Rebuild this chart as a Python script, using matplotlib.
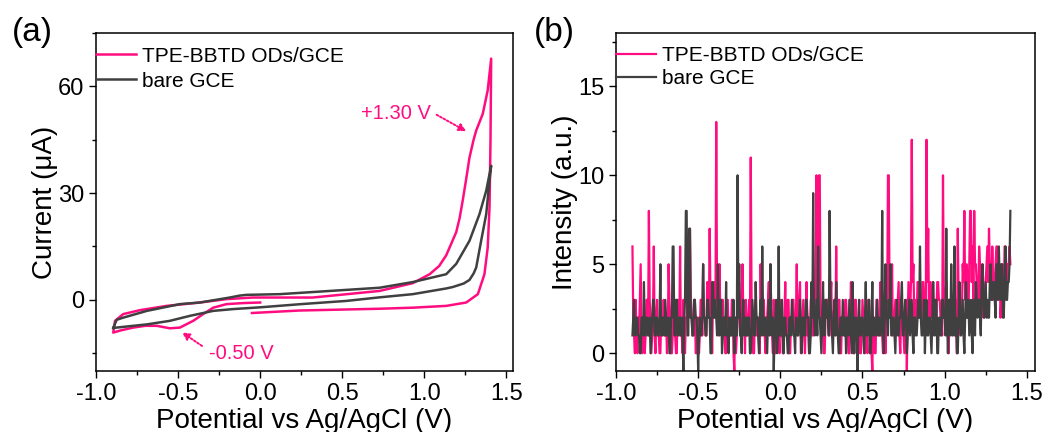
import numpy as np
import matplotlib
matplotlib.use('Agg')
import matplotlib.pyplot as plt
from matplotlib.ticker import MultipleLocator

plt.rcParams['font.family'] = ['Liberation Sans', 'DejaVu Sans']
plt.rcParams['axes.unicode_minus'] = False

PINK = '#FF0D80'
GRAY = '#404040'

# ---- (a) CV curves: potential (V), current (uA) ----
cv_pink_x = [0.00, -0.10, -0.205, -0.286, -0.347, -0.408, -0.489, -0.55, -0.63, -0.70, -0.773, -0.85, -0.895,
             -0.884, -0.834, -0.732, -0.57, -0.367, -0.205, -0.045, 0.32, 0.727, 0.93, 1.032, 1.09, 1.133,
             1.194, 1.215, 1.234, 1.255, 1.275, 1.30, 1.316, 1.356, 1.386, 1.407,
             1.403, 1.397, 1.386, 1.366, 1.326, 1.255, 1.133, 0.93, 0.727, 0.24, -0.05]
cv_pink_y = [-0.75, -0.9, -1.2, -2.2, -4.0, -5.9, -7.8, -8.0, -7.3, -7.3, -7.8, -8.6, -9.2,
             -5.9, -4.0, -2.9, -1.7, -0.75, 0.2, 0.65, 0.65, 2.5, 4.7, 7.2, 9.5, 12.5,
             19.0, 23.0, 28.0, 34.0, 40.0, 45.0, 47.6, 52.3, 58.9, 67.8,
             44.8, 26.0, 14.7, 7.2, 1.6, -0.75, -1.7, -2.2, -2.5, -3.0, -3.7]

cv_gray_x = [-0.895, -0.773, -0.69, -0.55, -0.428, -0.286, -0.165, 0.00, 0.25, 0.525, 0.727, 0.93, 1.133,
             1.173, 1.24, 1.275, 1.30, 1.316, 1.346, 1.377, 1.397, 1.407,
             1.377, 1.336, 1.275, 1.194, 1.133, 0.93, 0.727, 0.525, 0.12, -0.083, -0.124, -0.185,
             -0.367, -0.489, -0.69, -0.834, -0.874, -0.895]
cv_gray_y = [-7.9, -7.3, -6.9, -5.9, -4.5, -3.1, -2.6, -2.1, -1.2, -0.3, 0.7, 1.6, 3.2,
             3.6, 4.6, 5.6, 7.4, 9.1, 16.6, 24.1, 33.5, 37.7,
             30.7, 24.1, 16.6, 10.1, 7.2, 5.0, 3.4, 2.8, 1.6, 1.4, 1.2, 0.65,
             -0.75, -1.2, -3.1, -5.0, -5.6, -7.9]

# ---- (b) ECL intensity vs potential, one value every 5 mV ----
ecl_x = np.round(np.arange(-0.90, 1.4025, 0.005), 3)
ecl_pink = [6, 2, 1, 0, 3, 1, 0, 2, 1, 3, 5, 1, 0, 1, 2, 0, 1, 3, 3, 1,
            8, 3, 2, 0, 1, 2, 6, 1, 0, 2, 3, 1, 1, 0, 0, 2, 2, 1, 3, 1,
            1, 2, 0, 1, 5, 3, 2, 0, 0, 1, 3, 2, 1, 0, 0, 3, 2, 1, 6, 1,
            1, 0, 3, 1, 0, 2, 2, 4, 4, 2, 7, 3, 2, 1, 1, 3, 3, 0, 0, 2,
            2, 0, 1, 3, 3, 1, 5, 2, 2, 1, 1, 4, 4, 2, 7, 3, 2, 0, 3, 2,
            4, 2, 13, 3, 3, 1, 5, 2, 2, 3, 3, 1, 1, 0, 0, 3, 3, 1, 2, 1,
            1, 3, 3, 0, -1, 2, 0, 1, 2, 4, 4, 1, 1, 3, 5, 2, 2, 0, 3, 1,
            1, 2, 3, 1, 11, 3, 2, 0, 0, 2, 3, 1, 1, 2, 2, 0, 5, 2, 1, 3,
            3, 1, 0, 2, 2, 3, 4, 1, 5, 2, 1, 0, 3, 2, 0, 1, 2, 3, 1, 0,
            3, 1, 2, 0, 0, 2, 4, 1, 1, 3, 3, 0, 0, 2, 2, 3, 3, 1, 1, 2,
            5, 1, 2, 3, 4, 0, 1, 2, 3, 1, 0, 2, 4, 1, 2, 0, 1, 3, 3, 1,
            1, 2, 3, 4, 10, 3, 4, 10, 10, 2, 2, 1, 3, 0, 0, 2, 2, 3, 3, 1,
            1, 3, 4, 1, 2, 2, 3, 1, 6, 2, 1, 3, 3, 0, 0, 2, 2, 1, 1, 3,
            3, 2, 1, 0, 0, 2, 4, 1, 2, 0, 0, 3, 3, 1, 1, 2, 2, 0, 0, 1,
            3, 2, 1, 0, 2, 1, 0, 3, 3, 1, 1, 0, -1, 2, 2, 0, 0, 3, 3, 1,
            2, 1, 4, 2, 1, 0, 3, 2, 0, 4, 2, 10, 10, 3, 3, 2, 5, 1, 1, 2,
            3, 1, 2, 3, 4, 1, 0, 2, 3, 2, 1, 0, 2, 3, -1, 2, 4, 3, 2, 4,
            12, 4, 5, 2, 3, 2, 2, 4, 4, 3, 3, 2, 2, 4, 4, 3, 3, 2, 12, 4,
            7, 2, 3, 4, 2, 3, 4, 2, 3, 2, 2, 4, 4, 3, 3, 2, 2, 1, 10, 3,
            2, 3, 4, 1, 1, 0, 3, 2, 2, 1, 3, 2, 1, 3, 2, 0, 7, 3, 2, 1,
            3, 2, 5, 4, 8, 3, 4, 5, 3, 2, 5, 8, 8, 4, 6, 3, 8, 5, 5, 4,
            4, 3, 6, 5, 3, 2, 5, 4, 2, 3, 4, 5, 6, 4, 7, 5, 5, 3, 6, 4,
            3, 4, 5, 6, 6, 3, 4, 5, 2, 3, 5, 4, 3, 6, 6, 4, 4, 5, 5, 6, 5]
ecl_gray = [1, 2, 3, 1, 1, 2, 2, 1, 1, 0, 0, 2, 2, 1, 4, 1, 1, 2, 2, 1,
            1, 2, 0, 1, 2, 3, 3, 1, 1, 2, 2, 1, 1, 2, 5, 1, 1, 2, 2, 1,
            3, 2, 1, 1, 2, 0, 0, 2, 2, 6, 6, 1, 1, 3, 3, 1, 1, 2, 2, 1,
            2, 1, -1, 2, 3, 8, 8, 1, 1, 7, 7, 2, 2, 1, 1, 3, 3, 2, 2, 1,
            -1, 1, 2, 1, 1, 2, 5, 2, 2, 1, 1, 3, 3, 2, 2, 0, 0, 4, 4, 2,
            3, 2, 2, 1, 5, 2, 1, 3, 3, 0, 1, 2, 2, 1, 4, 1, 1, 0, 2, 1,
            2, 1, 1, 3, 0, 1, 2, 1, 10, 2, 5, 1, 1, 0, 2, 3, 1, 2, 1, 2,
            1, 2, 2, 0, 0, 1, 3, 2, 1, 1, 4, 2, 2, 1, 0, 2, 3, 1, 6, 2,
            1, 2, 2, 1, 0, 2, 3, 1, 5, 2, 1, 2, -1, 1, 2, 3, 0, 1, 6, 1,
            1, 2, 3, 1, 0, 2, 2, 1, 1, 0, 0, 2, 2, 1, 3, 2, 1, 1, 0, 2,
            2, 1, 1, 2, 3, 1, 0, 2, 2, 1, 1, 3, 3, 2, 2, 0, 0, 1, 4, 2,
            9, 2, 1, 2, 3, 1, 6, 2, 2, 1, 0, 2, 4, 1, 1, 3, 3, 2, 2, 1,
            8, 3, 2, 1, 0, 2, 3, 1, 4, 2, 1, 0, 0, 2, 2, 1, 3, 2, 1, 2,
            0, 2, 2, 1, 3, 2, 1, 0, 4, 1, 0, 2, 2, 1, -1, 2, 3, 1, 1, 2,
            2, 1, 0, 2, 4, 1, 1, 2, 3, 0, 0, 2, 4, 1, 2, 1, 1, 2, 3, 1,
            2, 1, 1, 2, 8, 1, 0, 2, 5, 2, 2, 1, 3, 2, 5, 1, 1, 2, 2, 1,
            0, 2, 3, 1, 1, 2, 2, 3, 4, 1, 1, 2, 3, 2, 0, 1, 2, 3, 1, 2,
            3, 1, 0, 2, 2, 1, 1, 2, 3, 2, 6, 2, 1, 1, 2, 3, 0, 2, 3, 1,
            1, 2, 2, 1, 0, 2, 4, 1, 1, 3, 3, 0, 0, 2, 2, 1, 1, 3, 3, 2,
            2, 1, 7, 2, 0, 3, 3, 1, 5, 2, 1, 2, 6, 1, 2, 0, 0, 2, 4, 2,
            1, 2, 3, 1, 0, 2, 4, 2, 2, 3, 1, 2, 3, 1, 0, 3, 2, 1, 4, 3,
            2, 3, 3, 2, 1, 4, 5, 3, 2, 3, 4, 2, 3, 2, 2, 4, 5, 3, 3, 4,
            4, 3, 2, 5, 5, 3, 6, 4, 3, 5, 5, 2, 2, 4, 6, 3, 3, 4, 4, 5, 8]

labels = ['TPE-BBTD ODs/GCE', 'bare GCE']
xlabel = 'Potential vs Ag/AgCl (V)'

fig = plt.figure(figsize=(10.48, 4.32), dpi=100)
ax_a = fig.add_axes([0.0916, 0.1412, 0.3979, 0.7824])
ax_b = fig.add_axes([0.5878, 0.1412, 0.3998, 0.7824])


def style_axis(ax):
    for s in ax.spines.values():
        s.set_linewidth(1.1)
    ax.tick_params(which='both', direction='out', top=False, right=False, labelsize=17, width=1.0)
    ax.tick_params(which='major', length=5)
    ax.tick_params(which='minor', length=3)
    ax.xaxis.set_major_locator(MultipleLocator(0.5))
    ax.xaxis.set_minor_locator(MultipleLocator(0.25))
    ax.set_xlabel(xlabel, fontsize=20, labelpad=2)


# panel a
ax_a.plot(cv_pink_x, cv_pink_y, color=PINK, lw=1.8, label=labels[0])
ax_a.plot(cv_gray_x, cv_gray_y, color=GRAY, lw=1.8, label=labels[1])
ax_a.set_xlim(-1.0, 1.54)
ax_a.set_ylim(-20, 75)
ax_a.yaxis.set_major_locator(MultipleLocator(30))
ax_a.yaxis.set_minor_locator(MultipleLocator(15))
style_axis(ax_a)
ax_a.set_ylabel('Current (\u03bcA)', fontsize=20, labelpad=0)
ax_a.legend(loc='upper left', bbox_to_anchor=(0.0, 0.96), frameon=False, fontsize=15,
            handlelength=1.9, handletextpad=0.3, labelspacing=0.3, borderaxespad=0, borderpad=0)

ax_a.text(1.04, 52.4, '+1.30 V', color=PINK, fontsize=14.5, ha='right', va='center')
ax_a.annotate('', xy=(1.27, 47.0), xytext=(1.06, 52.4),
              arrowprops=dict(arrowstyle='-|>', ls=(0, (1, 1)), color=PINK, lw=1.4, mutation_scale=11))
ax_a.text(-0.31, -15.2, '-0.50 V', color=PINK, fontsize=14.5, ha='left', va='center')
ax_a.annotate('', xy=(-0.49, -8.7), xytext=(-0.34, -13.4),
              arrowprops=dict(arrowstyle='-|>', ls=(0, (1, 1)), color=PINK, lw=1.4, mutation_scale=11))

# panel b
ax_b.plot(ecl_x, ecl_pink, color=PINK, lw=1.6, label=labels[0])
ax_b.plot(ecl_x, ecl_gray, color=GRAY, lw=1.6, label=labels[1])
ax_b.set_xlim(-1.0, 1.55)
ax_b.set_ylim(-1, 18)
ax_b.yaxis.set_major_locator(MultipleLocator(5))
ax_b.yaxis.set_minor_locator(MultipleLocator(2.5))
style_axis(ax_b)
ax_b.set_ylabel('Intensity (a.u.)', fontsize=20, labelpad=0)
ax_b.legend(loc='upper left', bbox_to_anchor=(0.0, 0.962), frameon=False, fontsize=15,
            handlelength=1.9, handletextpad=0.3, labelspacing=0.22, borderaxespad=0, borderpad=0)

fig.text(0.011, 0.925, '(a)', fontsize=24, ha='left', va='center')
fig.text(0.509, 0.925, '(b)', fontsize=24, ha='left', va='center')

fig.savefig('out.png', dpi=100)
